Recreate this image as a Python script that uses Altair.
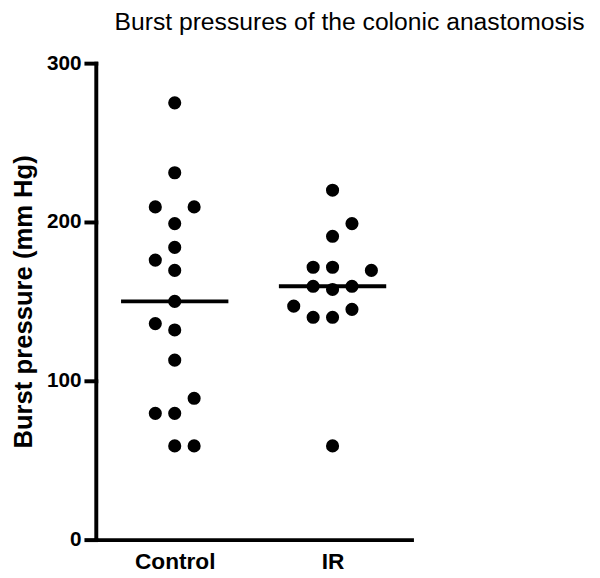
import altair as alt
import pandas as pd

groups = ["Control", "IR"]
control_values = [275, 231, 209.5, 209.5, 199, 184, 176, 169.5, 150, 136, 132, 113, 89, 79.5, 79.5, 59, 59]
control_slots = [0, 0, -1, 1, 0, 0, -1, 0, 0, -1, 0, 0, 1, -1, 0, 0, 1]
ir_values = [220, 199, 191, 171.5, 171.5, 169.5, 159.5, 159.5, 157.5, 147, 145, 140, 140, 59]
ir_slots = [0, 1, 0, -1, 0, 2, -1, 1, 0, -2, 1, -1, 0, 0]
y_ticks = [0, 100, 200, 300]

rows = []
for v, s in zip(control_values, control_slots):
    rows.append({"group": groups[0], "idx": 1, "value": v, "slot": s})
for v, s in zip(ir_values, ir_slots):
    rows.append({"group": groups[1], "idx": 2, "value": v, "slot": s})
df = pd.DataFrame(rows)

font = "Liberation Sans"
label_expr = "datum.value == 1 ? '%s' : '%s'" % (groups[0], groups[1])

x_axis = alt.Axis(values=[1, 2], labelExpr=label_expr, ticks=False, grid=False,
                  title=None, labelFontSize=23, labelPadding=11, labelAngle=0)
y_axis = alt.Axis(values=y_ticks, grid=False, title="Burst pressure (mm Hg)",
                  titleFontSize=26, titleFontWeight="bold", titlePadding=10,
                  labelFontSize=21, tickSize=10, labelPadding=5)

x_scale = alt.Scale(domain=[0.5, 2.5], nice=False, zero=False)
y_scale = alt.Scale(domain=[0, 300], nice=False)

points = alt.Chart(df).transform_calculate(
    xpos="datum.idx + datum.slot * 0.123"
).mark_circle(size=177, color="black", opacity=1).encode(
    x=alt.X("xpos:Q", scale=x_scale, axis=x_axis),
    y=alt.Y("value:Q", scale=y_scale, axis=y_axis),
)

medians = alt.Chart(df).transform_aggregate(
    med="median(value)", groupby=["group", "idx"]
).transform_calculate(
    x1="datum.idx - 0.34", x2="datum.idx + 0.34"
).mark_rule(strokeWidth=4, color="black").encode(
    x=alt.X("x1:Q", scale=x_scale, axis=x_axis),
    x2="x2:Q",
    y=alt.Y("med:Q", scale=y_scale, axis=y_axis),
)

chart = alt.layer(medians, points).properties(
    width=320,
    height=483,
    autosize=alt.AutoSizeParams(type="none"),
    padding={"left": 89, "top": 52, "right": 183, "bottom": 35},
    title=alt.TitleParams(
        text="Burst pressures of the colonic anastomosis",
        anchor="start", frame="group", dx=19, offset=18,
        fontSize=25, fontWeight="normal", font=font, color="black",
    ),
).configure_view(strokeWidth=0).configure_axis(
    domainColor="black", domainWidth=4, domainCap="square",
    tickColor="black", tickWidth=4, tickCap="square",
    labelFont=font, labelFontWeight="bold", labelColor="black",
    titleFont=font, titleColor="black",
)

chart.save("out.html", embed_options={"renderer": "svg", "actions": False})
